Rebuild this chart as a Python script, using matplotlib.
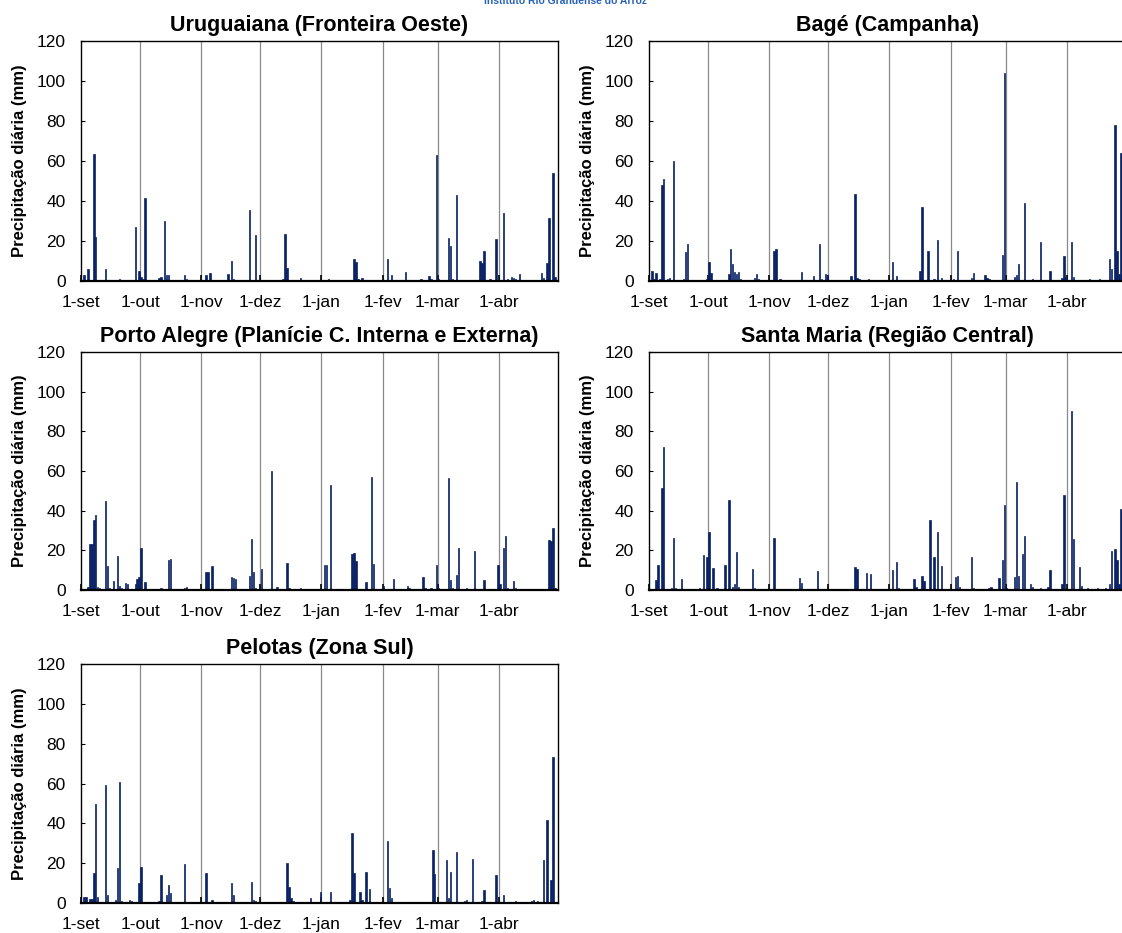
import numpy as np
import matplotlib
matplotlib.use("Agg")
import matplotlib.pyplot as plt

plt.rcParams['font.family'] = ['Liberation Sans', 'DejaVu Sans']

# season 1-set .. 30-abr, day index 0..241
n_days = 242
month_start = [0, 30, 61, 91, 122, 153, 181, 212]
month_labels = ["1-set", "1-out", "1-nov", "1-dez", "1-jan", "1-fev", "1-mar", "1-abr"]

# Uruguaiana (Fronteira Oeste)
uru_day = [1, 3, 6, 7, 12, 19, 27, 29, 30, 31, 32, 39, 40, 42, 43, 44, 52, 53, 63, 65,
           74, 76, 77, 85, 88, 102, 103, 104, 111, 125, 138, 139, 140, 142, 155, 157, 164, 172, 176, 177,
           180, 181, 186, 187, 188, 190, 202, 203, 204, 207, 210, 214, 216, 218, 219, 220, 222, 233, 234, 236,
           237, 239, 240]
uru_mm = [3, 6, 63.5, 22, 6, 1, 27, 5, 2, 1, 41.5, 1.5, 2, 30, 3, 3, 3, 1, 3, 4,
          3.5, 10, 1, 35.5, 23, 1, 23.5, 6.5, 1.5, 1, 11, 9.5, 1, 1.5, 11, 3, 4.5, 1, 2.5, 1,
          63, 1, 21.5, 17.5, 1, 43, 10, 9, 15, 1, 21, 34, 1, 2, 1.5, 1, 3.5, 4, 1.5, 9,
          31.5, 54, 2]

# Bagé (Campanha)
bag_day = [1, 2, 3, 5, 6, 7, 9, 10, 12, 17, 18, 19, 24, 29, 30, 31, 40, 41, 42, 43,
           44, 45, 46, 53, 54, 55, 63, 64, 66, 77, 83, 86, 87, 89, 90, 96, 102, 104, 105, 106,
           111, 123, 125, 137, 138, 141, 144, 146, 148, 154, 156, 163, 164, 170, 171, 172, 179, 180, 185, 186,
           187, 190, 194, 198, 203, 209, 210, 211, 214, 215, 223, 228, 233, 234, 236, 237, 238, 239]
bag_mm = [5, 1, 4, 1, 48, 51, 1, 1.5, 60, 1, 14.5, 18.5, 0.7, 1, 9.5, 4, 3.5, 16, 8.5, 4.5,
          3.5, 4.5, 1, 1.5, 3.5, 1, 15, 16, 1, 4.5, 2.5, 18.5, 1, 3.5, 3, 0.7, 2.5, 43.5, 1.5, 1,
          1, 9.5, 2.5, 5, 37, 15, 1, 20.5, 1.5, 1, 15, 1.5, 4, 3, 1.5, 1, 13, 104, 2, 3,
          8.5, 39, 1, 19.5, 5, 1.5, 12.5, 2, 19.5, 2, 0.8, 1, 11, 6, 78, 15, 3.5, 64]

# Porto Alegre (Planície C. Interna e Externa)
poa_day = [3, 4, 5, 6, 7, 8, 9, 12, 13, 14, 16, 18, 19, 20, 22, 23, 27, 28, 29, 30,
           32, 34, 38, 40, 44, 45, 52, 53, 63, 64, 66, 76, 77, 78, 85, 86, 87, 88, 91, 96,
           99, 104, 105, 107, 111, 123, 124, 126, 137, 138, 139, 144, 147, 148, 153, 158, 165, 166, 173, 174,
           177, 180, 181, 186, 187, 188, 190, 191, 195, 199, 204, 211, 212, 214, 215, 216, 219, 220, 222, 223,
           224, 225, 226, 232, 234, 237, 238, 239, 240]
poa_mm = [1.5, 23, 23, 35.5, 38, 1.5, 1, 45, 12, 1, 4.5, 17, 2, 1, 3.5, 3, 3, 5.5, 6.5, 21,
          4, 0.7, 0.7, 1, 15, 15.5, 1, 1.5, 9, 9, 12, 6.5, 6, 5.5, 7, 25.5, 9, 1, 10.5, 60,
          1.5, 13.5, 1, 0.5, 0.8, 12.5, 12.5, 53, 18, 18.5, 14.5, 4, 57, 13, 2, 5.5, 2, 1, 6.5, 1,
          1, 12.5, 1, 56.5, 5, 1, 7.5, 21, 1, 19.5, 5, 12.5, 3, 21, 27, 1, 4.5, 1, 0.7, 0.7,
          0.7, 0.7, 0.7, 0.7, 0.7, 25, 24.5, 31.5, 1]

# Santa Maria (Região Central)
sma_day = [1, 3, 4, 6, 7, 11, 12, 13, 16, 25, 27, 29, 30, 32, 34, 38, 40, 42, 43, 44,
           45, 52, 53, 63, 76, 77, 85, 104, 105, 110, 112, 123, 125, 126, 134, 135, 138, 139, 142, 144,
           146, 148, 155, 156, 157, 163, 164, 172, 173, 177, 179, 180, 181, 185, 186, 187, 189, 190, 193, 194,
           198, 202, 203, 209, 210, 214, 215, 218, 219, 222, 227, 231, 233, 234, 236, 237, 238, 239]
sma_mm = [0.7, 5, 12.5, 51.5, 72, 0.8, 26, 1, 5.5, 0.8, 17.5, 16.5, 29, 11, 0.8, 12.5, 45.5, 1.5, 3, 19,
          1.5, 10.5, 0.8, 26, 6, 3.5, 9.5, 11.5, 10.5, 8.5, 8, 10, 14, 0.8, 5.5, 1.5, 7, 4.5, 35.5, 16.5,
          29, 12, 6.5, 7, 1.5, 16.5, 0.8, 0.8, 1.5, 6, 15, 43, 0.8, 6.5, 54.5, 7, 18, 27, 3, 1.5,
          0.8, 1.5, 10, 3, 48, 90.5, 25.5, 11.5, 2, 0.8, 0.8, 0.8, 3, 19.5, 20.5, 15, 3, 41]

# Pelotas (Zona Sul)
pel_day = [1, 2, 4, 5, 6, 7, 8, 12, 13, 17, 18, 19, 20, 24, 25, 29, 30, 39, 40, 43,
           44, 45, 52, 63, 66, 76, 77, 86, 87, 88, 89, 96, 97, 104, 105, 106, 107, 116, 121, 126,
           136, 137, 138, 141, 142, 144, 146, 147, 155, 156, 157, 178, 179, 185, 186, 187, 190, 194, 195, 198,
           203, 204, 210, 214, 220, 228, 229, 231, 234, 236, 238, 239]
pel_mm = [3, 3, 2, 2, 15, 49.5, 3, 59, 4, 1.5, 17.5, 61, 1, 1.5, 0.8, 10, 18, 1, 14, 4,
          9, 5, 19.5, 15, 1.5, 10, 4, 10.5, 1.5, 1, 0.7, 0.7, 0.7, 20, 8, 2.5, 1, 2.5, 5.5, 5.5,
          1.5, 35, 15, 5.5, 1.5, 15.5, 7, 0.7, 31, 7.5, 2.5, 26.5, 14.5, 21.5, 2.5, 15.5, 25.5, 1, 1.5, 22,
          1, 6.5, 14, 4, 0.8, 0.8, 1.5, 0.8, 21.5, 41.5, 11.5, 73.5]

bar_color = "#0b2265"


def draw_panel(fig, rect, title, days, mm):
    ax = fig.add_axes(rect)
    rain = np.zeros(n_days)
    rain[np.array(days)] = mm
    x = np.arange(n_days) + 0.5
    for m in month_start[1:]:
        ax.axvline(m, color="#8a8a8a", lw=0.9, zorder=0)
    # thin edge in the same colour keeps every bar ~2 px wide
    ax.bar(x, rain, width=0.7, color=bar_color, edgecolor=bar_color, linewidth=0.5, zorder=2)
    ax.set_xlim(0, n_days)
    ax.set_ylim(0, 120)
    ax.set_yticks(np.arange(0, 121, 20))
    ax.set_xticks(month_start)
    ax.set_xticklabels(month_labels)
    ax.tick_params(axis="both", direction="in", labelsize=12.5, colors="black")
    ax.tick_params(axis="x", length=4, width=1.2, pad=10)
    ax.tick_params(axis="y", length=3, width=0.8, pad=11)
    for s in ax.spines.values():
        s.set_linewidth(1.0)
    ax.spines["bottom"].set_linewidth(1.6)
    ax.set_title(title, fontsize=15.5, fontweight="bold", pad=7)
    ax.set_ylabel("Precipitação diária (mm)", fontsize=12, fontweight="bold")
    ax.yaxis.set_label_coords(-0.113, 0.5)
    return ax


fig = plt.figure(figsize=(11.22, 9.33), dpi=100)

left_x = 81 / 1122
right_x = 649 / 1122
w = 477 / 1122
rows = [(1 - 281 / 933, 240 / 933), (1 - 590 / 933, 238 / 933), (1 - 903 / 933, 239 / 933)]

draw_panel(fig, [left_x, rows[0][0], w, rows[0][1]], "Uruguaiana (Fronteira Oeste)", uru_day, uru_mm)
draw_panel(fig, [right_x, rows[0][0], w, rows[0][1]], "Bagé (Campanha)", bag_day, bag_mm)
draw_panel(fig, [left_x, rows[1][0], w, rows[1][1]], "Porto Alegre (Planície C. Interna e Externa)", poa_day, poa_mm)
draw_panel(fig, [right_x, rows[1][0], w, rows[1][1]], "Santa Maria (Região Central)", sma_day, sma_mm)
draw_panel(fig, [left_x, rows[2][0], w, rows[2][1]], "Pelotas (Zona Sul)", pel_day, pel_mm)

# header strip of the source page, cut by the top edge as in the original
fig.text(0.504, 1 - 4 / 933, "Instituto Rio Grandense do Arroz", ha="center", va="baseline",
         fontsize=7.5, fontweight="bold", color="#2a62b8")

fig.savefig("out.png", dpi=100)
